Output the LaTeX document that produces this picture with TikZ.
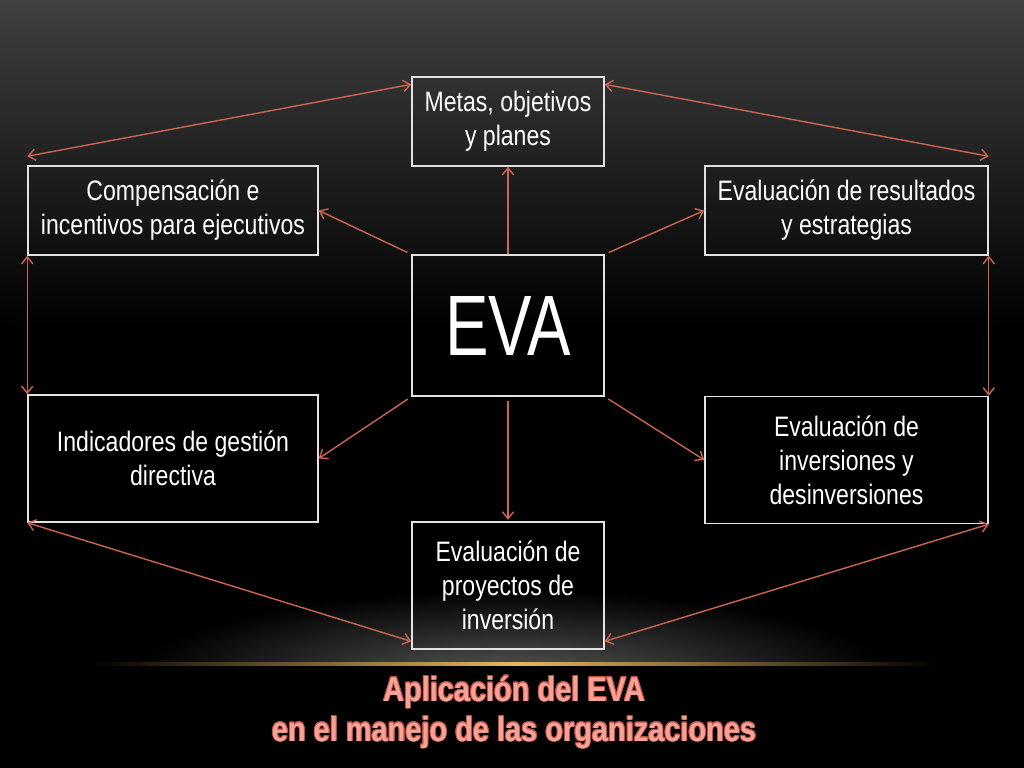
\documentclass[tikz,border=0pt]{standalone}
\usepackage{fontspec}
\setmainfont{Liberation Sans}[FakeStretch=0.82]
\newfontfamily\evafont{Liberation Sans}[FakeStretch=0.76]
\newfontfamily\titlefont{Liberation Sans}[FakeStretch=0.84]
\usepackage{contour}
\usetikzlibrary{arrows.meta}
\definecolor{bgtop}{HTML}{404040}
\definecolor{linkred}{HTML}{CB6450}
\definecolor{boxline}{HTML}{E2E2E2}
\definecolor{glowgray}{HTML}{5A5A5A}
\definecolor{goldline}{HTML}{E8B860}
\definecolor{titlefill}{HTML}{F5A399}
\definecolor{titleedge}{HTML}{C4503F}
\contourlength{0.6pt}

\begin{document}
\begin{tikzpicture}[x=0.025cm,y=-0.025cm,
    box/.style={draw=boxline,line width=1pt,text=white,align=center,inner sep=0pt,
        font=\fontsize{20}{24.2}\selectfont},
    link/.style={draw=linkred,line width=1pt},
    >={Straight Barb[length=5pt,width=8pt]}]

    \useasboundingbox (0,0) rectangle (1024,768);
    \fill[black] (0,0) rectangle (1024,768);
    \shade[top color=bgtop,bottom color=black] (0,0) rectangle (1024,330);
    \begin{scope}
        \clip (0,500) rectangle (1024,664);
        \shade[inner color=glowgray,outer color=black] (512,680) ellipse (380 and 90);
    \end{scope}
    \shade[left color=black,right color=black,middle color=goldline] (90,662.5) rectangle (940,665.5);

    \node[box,minimum width=4.8cm,minimum height=2.225cm] (metas) at (508,121.5) {Metas, objetivos\\y planes};
    \node[box,minimum width=7.25cm,minimum height=2.225cm] (comp) at (173,210.5) {Compensación e\\incentivos para ejecutivos};
    \node[box,minimum width=7.075cm,minimum height=2.225cm] (res) at (846.5,210.5) {Evaluación de resultados\\y estrategias};
    \node[box,minimum width=4.8cm,minimum height=3.525cm,font=\evafont\fontsize{61}{61}\selectfont] (eva) at (508,325.5) {EVA};
    \node[box,minimum width=7.25cm,minimum height=3.175cm] (ind) at (173,458.5) {Indicadores de gestión\\directiva};
    \node[box,minimum width=7.075cm,minimum height=3.175cm] (inv) at (846.5,460) {Evaluación de\\inversiones y\\desinversiones};
    \node[box,minimum width=4.8cm,minimum height=3.175cm] (proy) at (508,585.5) {Evaluación de\\proyectos de\\inversión};

    \draw[link,<->] (metas.159) -- ([yshift=6.4pt]comp.north west);
    \draw[link,<->] (metas.21) -- ([yshift=6.4pt]res.north east);
    \draw[link,<->] (comp.south west) -- (ind.north west);
    \draw[link,<->] (res.south east) -- (inv.north east);
    \draw[link,<->] (ind.south west) -- (proy.210);
    \draw[link,<->] (inv.south east) -- (proy.330);

    \draw[link,->] (eva.north) -- (metas.south);
    \draw[link,->,shorten <=3pt,shorten >=1pt] (eva.south) -- (proy.north);
    \draw[link,->,shorten <=3pt] (eva.north west) -- (comp.east);
    \draw[link,->,shorten <=3pt] (eva.north east) -- (res.west);
    \draw[link,->,shorten <=3pt] (eva.south west) -- (ind.east);
    \draw[link,->,shorten <=3pt] (eva.south east) -- (inv.west);

    \node[anchor=base,font=\titlefont\bfseries\fontsize{24.5}{28}\selectfont,text=titlefill] (title) at (514,701) {\contour{titleedge}{Aplicación del EVA}};
    \node[anchor=base,font=\titlefont\bfseries\fontsize{24.5}{28}\selectfont,text=titlefill] (subtitle) at (514,741) {\contour{titleedge}{en el manejo de las organizaciones}};
\end{tikzpicture}
\end{document}
